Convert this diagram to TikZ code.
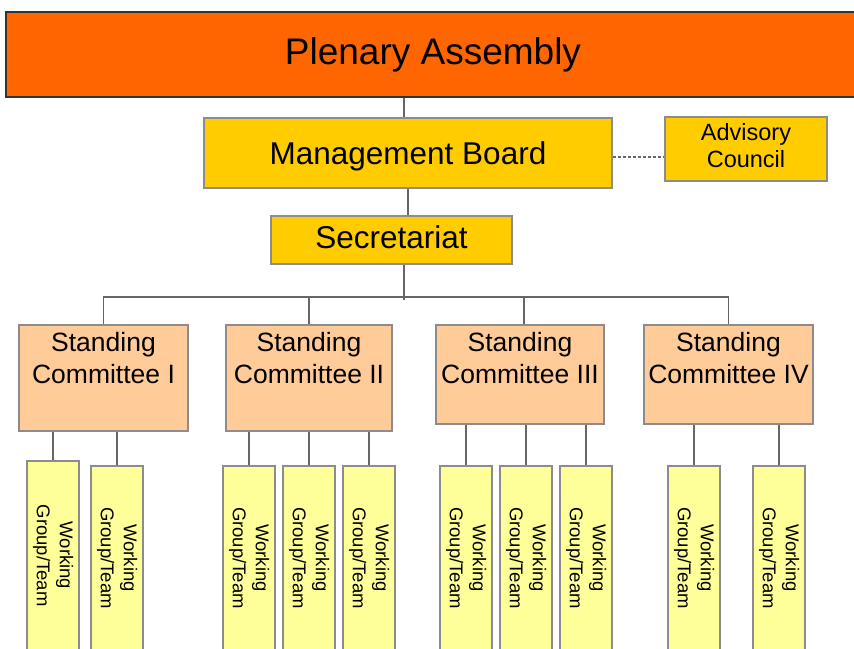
\documentclass[tikz,border=0pt]{standalone}
\usepackage{fontspec}
\setmainfont{Liberation Sans}
\usepackage{graphicx}
\definecolor{paorange}{HTML}{FF6600}
\definecolor{mbyellow}{HTML}{FFCC00}
\definecolor{scpeach}{HTML}{FFCC99}
\definecolor{wglight}{HTML}{FFFF99}
\definecolor{boxgray}{HTML}{8C8C8C}
\definecolor{linegray}{HTML}{666666}
\newcommand\sctext[3]{\parbox[c][#2pt][t]{#1pt}{\centering\fontsize{26.5}{32}\selectfont\rule{0pt}{26pt}Standing\\Committee #3}}
\newcommand\wgtext{\rotatebox{-90}{\begin{tabular}{@{}c@{}}Working\\Group/Team\end{tabular}}}
\begin{document}
\begin{tikzpicture}[x=1pt,y=-1pt,
  pabox/.style={draw=black!80, line width=1.2pt, fill=paorange, inner sep=0pt, font=\fontsize{37}{44}\selectfont},
  mbbox/.style={draw=boxgray, line width=1.5pt, fill=mbyellow, inner sep=0pt, align=center},
  scbox/.style={draw=boxgray, line width=1.5pt, fill=scpeach, inner sep=0pt},
  wgbox/.style={draw=boxgray, line width=1.5pt, fill=wglight, inner sep=0pt, minimum width=52pt, font=\fontsize{18.5}{23}\selectfont},
  conn/.style={draw=linegray, line width=1.3pt},
  dconn/.style={draw=linegray, line width=1.3pt, dash pattern=on 3pt off 2pt}]
\useasboundingbox (0,0) rectangle (854,648);
% top levels
\node[pabox, minimum width=854pt, minimum height=85pt] (pa) at (433,54.5) {Plenary Assembly};
\node[mbbox, minimum width=408pt, minimum height=70pt, text height=28.6pt, text depth=6.6pt, font=\fontsize{31.5}{36}\selectfont] (mb) at (408,153) {Management Board};
\node[mbbox, minimum width=162pt, minimum height=64pt, font=\fontsize{23.5}{27}\selectfont] (adv) at (746,149) {\raisebox{2pt}{\begin{tabular}{@{}c@{}}Advisory\\Council\end{tabular}}};
\node[mbbox, minimum width=241pt, minimum height=48pt, text height=22.6pt, text depth=6pt, font=\fontsize{31.5}{36}\selectfont] (sec) at (391.5,240) {Secretariat};
% standing committees
\node[scbox] (sc1) at (103.5,378) {\sctext{169}{106}{I}};
\node[scbox] (sc2) at (309,378) {\sctext{166}{106}{II}};
\node[scbox] (sc3) at (520,374.5) {\sctext{168}{99}{III}};
\node[scbox] (sc4) at (728.5,374.5) {\sctext{169}{99}{IV}};
% working groups
\node[wgbox, minimum height=189pt] (wg1) at (53,555.5) {\wgtext};
\node[wgbox, minimum height=184pt] (wg2) at (117,558) {\wgtext};
\node[wgbox, minimum height=184pt] (wg3) at (249,558) {\wgtext};
\node[wgbox, minimum height=184pt] (wg4) at (309,558) {\wgtext};
\node[wgbox, minimum height=184pt] (wg5) at (369,558) {\wgtext};
\node[wgbox, minimum height=184pt] (wg6) at (466,558) {\wgtext};
\node[wgbox, minimum height=184pt] (wg7) at (526,558) {\wgtext};
\node[wgbox, minimum height=184pt] (wg8) at (586,558) {\wgtext};
\node[wgbox, minimum height=184pt] (wg9) at (694,558) {\wgtext};
\node[wgbox, minimum height=184pt] (wg10) at (779,558) {\wgtext};
% connectors
\draw[conn] ([xshift=-4pt]mb.north) -- ([xshift=-4pt]mb.north |- pa.south);
\draw[conn] (mb.south) -- (mb.south |- sec.north);
\draw[dconn] ([yshift=-4pt]mb.east) -- ([yshift=-4pt]mb.east -| adv.west);
\coordinate (bus) at (404,297);
\draw[conn] (sec.south -| bus) -- ([yshift=-3pt]bus);
\draw[conn] (sc1.north) -- (sc1.north |- bus) -- (sc4.north |- bus) -- (sc4.north);
\draw[conn] (sc2.north) -- (sc2.north |- bus);
\draw[conn] ([xshift=4pt]sc3.north) -- ([xshift=4pt]sc3.north |- bus);
\foreach \w/\s in {wg1/sc1, wg2/sc1, wg3/sc2, wg4/sc2, wg5/sc2, wg6/sc3, wg7/sc3, wg8/sc3, wg9/sc4, wg10/sc4}
  \draw[conn] (\w.north) -- (\w.north |- \s.south);
\end{tikzpicture}
\end{document}
